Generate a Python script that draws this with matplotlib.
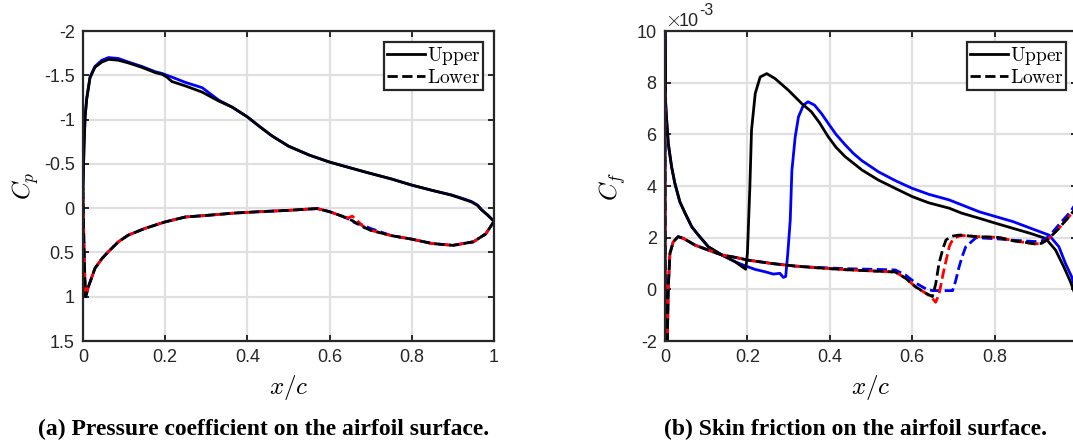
import numpy as np
import matplotlib
matplotlib.use("Agg")
import matplotlib.pyplot as plt
from matplotlib.lines import Line2D

plt.rcParams["mathtext.fontset"] = "cm"
plt.rcParams["font.family"] = ["Liberation Sans", "DejaVu Sans"]

# ---------------- pressure coefficient (left) ----------------
cp_up_x = [0, 0.0024, 0.005, 0.009, 0.017, 0.029, 0.046, 0.062, 0.086, 0.11, 0.143,
           0.176, 0.193, 0.204, 0.216, 0.249, 0.29, 0.33, 0.363, 0.4, 0.43, 0.46,
           0.5, 0.55, 0.6, 0.65, 0.693, 0.75, 0.8, 0.85, 0.896, 0.92, 0.945,
           0.96, 0.97, 0.985, 1.0]
cp_up_black = [-0.22, -0.69, -1.02, -1.23, -1.47, -1.59, -1.65, -1.68, -1.67, -1.64, -1.59,
               -1.53, -1.51, -1.48, -1.43, -1.38, -1.31, -1.21, -1.14, -1.03, -0.92, -0.815,
               -0.70, -0.60, -0.52, -0.455, -0.40, -0.33, -0.26, -0.2, -0.147, -0.11, -0.07,
               -0.03, 0.02, 0.08, 0.15]
cp_up_blue = [-0.22, -0.70, -1.03, -1.24, -1.48, -1.60, -1.67, -1.70, -1.69, -1.65, -1.60,
              -1.54, -1.52, -1.50, -1.48, -1.42, -1.36, -1.22, -1.14, -1.03, -0.92, -0.815,
              -0.70, -0.60, -0.52, -0.455, -0.40, -0.33, -0.26, -0.2, -0.15, -0.115, -0.075,
              -0.035, 0.02, 0.08, 0.15]

cp_lo_x = [0, 0.002, 0.0045, 0.0065, 0.013, 0.029, 0.046, 0.062, 0.086, 0.11, 0.15, 0.2,
           0.249, 0.306, 0.37, 0.43, 0.5, 0.55, 0.57, 0.6, 0.63, 0.645, 0.655,
           0.665, 0.68, 0.7, 0.75, 0.8, 0.85, 0.9, 0.95, 0.98, 1.0]
cp_lo_black = [-0.22, 0.35, 0.8, 1.0, 0.89, 0.68, 0.57, 0.49, 0.38, 0.305, 0.23, 0.155,
               0.1, 0.08, 0.055, 0.04, 0.025, 0.01, 0.005, 0.04, 0.09, 0.12, 0.14,
               0.17, 0.21, 0.25, 0.31, 0.35, 0.40, 0.42, 0.38, 0.29, 0.15]
cp_lo_red = [-0.22, 0.35, 0.8, 1.0, 0.89, 0.68, 0.57, 0.49, 0.38, 0.305, 0.23, 0.155,
             0.1, 0.08, 0.055, 0.04, 0.025, 0.01, 0.005, 0.04, 0.09, 0.11, 0.09,
             0.13, 0.2, 0.25, 0.31, 0.35, 0.40, 0.42, 0.38, 0.29, 0.15]
cp_lo_blue = [-0.22, 0.35, 0.8, 1.0, 0.89, 0.68, 0.57, 0.49, 0.38, 0.305, 0.23, 0.155,
              0.1, 0.08, 0.055, 0.04, 0.025, 0.01, 0.005, 0.04, 0.09, 0.12, 0.15,
              0.17, 0.19, 0.23, 0.31, 0.35, 0.40, 0.42, 0.38, 0.29, 0.15]

cp_ticks = [-2, -1.5, -1, -0.5, 0, 0.5, 1, 1.5]
cp_ticklabels = ["-2", "-1.5", "-1", "-0.5", "0", "0.5", "1", "1.5"]

# ---------------- skin friction (right), units of 1e-3 ----------------
cf_up_x_black = [0, 0.0016, 0.004, 0.008, 0.016, 0.024, 0.036, 0.049, 0.065, 0.081, 0.105,
                 0.138, 0.17, 0.193, 0.196, 0.2, 0.206, 0.21, 0.219, 0.231, 0.247, 0.267,
                 0.3, 0.332, 0.355, 0.375, 0.396, 0.415, 0.437, 0.478, 0.518, 0.56, 0.6,
                 0.64, 0.69, 0.72, 0.763, 0.8, 0.845, 0.886, 0.924, 0.948, 0.968, 0.984, 1.0]
cf_up_black = [12, 7.19, 6.55, 5.64, 4.74, 4.1, 3.39, 2.94, 2.42, 2.1, 1.65,
               1.33, 1.07, 0.81, 0.78, 1.39, 3.97, 6.16, 7.58, 8.22, 8.35, 8.16,
               7.7, 7.19, 6.88, 6.45, 5.91, 5.5, 5.14, 4.62, 4.23, 3.9, 3.59,
               3.35, 3.14, 2.95, 2.75, 2.57, 2.36, 2.17, 1.97, 1.52, 0.87, 0.3, -0.4]
cf_up_x_blue = [0, 0.0016, 0.004, 0.008, 0.016, 0.024, 0.036, 0.049, 0.065, 0.081, 0.105,
                0.138, 0.17, 0.185, 0.2, 0.219, 0.243, 0.263, 0.279, 0.287, 0.293, 0.298,
                0.304, 0.308, 0.316, 0.324, 0.336, 0.347, 0.363, 0.38, 0.396, 0.415, 0.437,
                0.458, 0.478, 0.518, 0.56, 0.6, 0.64, 0.69, 0.763, 0.845, 0.91, 0.932, 0.956,
                0.972, 0.987, 1.0]
cf_up_blue = [12, 7.19, 6.55, 5.64, 4.74, 4.1, 3.39, 2.94, 2.42, 2.1, 1.65,
              1.33, 1.07, 0.97, 0.88, 0.77, 0.68, 0.59, 0.62, 0.46, 0.5, 1.39,
              2.68, 4.6, 5.9, 6.68, 7.13, 7.26, 7.13, 6.8, 6.43, 6.0, 5.6,
              5.25, 4.98, 4.55, 4.2, 3.91, 3.68, 3.46, 3.0, 2.62, 2.23, 2.1, 1.65,
              1.0, 0.49, -0.2]

cf_lo_x = [0, 0.001, 0.005, 0.0065, 0.008, 0.012, 0.02, 0.032, 0.045, 0.073, 0.105, 0.138,
           0.17, 0.202, 0.259, 0.316, 0.355, 0.437, 0.518, 0.559, 0.584, 0.608, 0.633,
           0.649, 0.657, 0.665, 0.675, 0.682, 0.69, 0.694, 0.698, 0.705, 0.714, 0.722,
           0.73, 0.755, 0.81, 0.845, 0.898, 0.914, 0.932, 0.956, 0.984, 1.0]
cf_lo_black = [8, -3, -3, -1.2, 0.1, 1.39, 1.84, 2.04, 1.97, 1.71, 1.52, 1.33,
               1.24, 1.13, 1.0, 0.9, 0.85, 0.76, 0.7, 0.67, 0.43, 0.1, -0.15,
               -0.28, 0.2, 1.0, 1.6, 1.91, 2.0, 2.04, 2.06, 2.08, 2.1, 2.1,
               2.08, 2.04, 2.01, 1.88, 1.76, 1.78, 1.97, 2.36, 2.88, 3.2]
cf_lo_red = [8, -3, -3, -1.2, 0.1, 1.39, 1.84, 2.04, 1.97, 1.71, 1.52, 1.33,
             1.24, 1.13, 1.0, 0.9, 0.85, 0.76, 0.7, 0.67, 0.43, 0.1, -0.15,
             -0.35, -0.5, -0.2, 0.6, 1.1, 1.65, 1.8, 1.9, 2.0, 2.06, 2.08,
             2.08, 2.04, 2.01, 1.88, 1.76, 1.78, 1.97, 2.36, 2.88, 3.2]
cf_lo_blue = [8, -3, -3, -1.2, 0.1, 1.39, 1.84, 2.04, 1.97, 1.71, 1.52, 1.33,
              1.24, 1.13, 1.0, 0.9, 0.86, 0.8, 0.77, 0.75, 0.55, 0.25, 0.02,
              -0.05, -0.05, -0.05, -0.05, -0.05, -0.05, -0.05, -0.05, 0.3, 0.88, 1.3,
              1.65, 2.0, 1.95, 1.9, 1.85, 1.87, 2.05, 2.5, 3.0, 3.4]

cf_ticks = [-2, 0, 2, 4, 6, 8, 10]
cf_ticklabels = ["-2", "0", "2", "4", "6", "8", "10"]
x_ticks = [0, 0.2, 0.4, 0.6, 0.8, 1]
x_ticklabels = ["0", "0.2", "0.4", "0.6", "0.8", "1"]

W, H = 1073, 444
fig = plt.figure(figsize=(W / 100, H / 100), dpi=100)
ax1 = fig.add_axes([83 / W, 1 - 341 / H, 411 / W, 310 / H])
ax2 = fig.add_axes([665 / W, 1 - 341 / H, 412 / W, 310 / H])

lw = 2.0
dash = (3.7, 1.6)


def style(ax):
    ax.grid(True, color="#e0e0e0", linewidth=1.6)
    ax.set_axisbelow(True)
    for s in ax.spines.values():
        s.set_linewidth(1.6)
        s.set_color("#262626")
        s.set_zorder(5)
    ax.tick_params(direction="in", top=True, right=True, length=4, width=1.4,
                   color="#262626", labelcolor="#262626", labelsize=13, pad=6)


def legend(ax):
    handles = [Line2D([], [], color="k", lw=lw, ls="-"),
               Line2D([], [], color="k", lw=lw, ls=(0, dash))]
    leg = ax.legend(handles, [r"$\mathrm{Upper}$", r"$\mathrm{Lower}$"],
                    loc="upper right", fontsize=14, fancybox=False, framealpha=1,
                    edgecolor="#262626", borderpad=0.15, labelspacing=0.12,
                    handlelength=1.95, handletextpad=0.1, borderaxespad=0.55)
    leg.get_frame().set_linewidth(1.6)
    leg.set_zorder(10)


# left: Cp
ax1.plot(cp_up_x, cp_up_blue, color="b", lw=lw)
ax1.plot(cp_up_x, cp_up_black, color="k", lw=lw)
ax1.plot(cp_lo_x, cp_lo_blue, color="b", lw=lw, ls=(4, dash))
ax1.plot(cp_lo_x, cp_lo_red, color="r", lw=lw, ls=(2, dash))
ax1.plot(cp_lo_x, cp_lo_black, color="k", lw=lw, ls=(0, dash))
ax1.set_xlim(0, 1)
ax1.set_ylim(1.5, -2)
ax1.set_xticks(x_ticks, x_ticklabels)
ax1.set_yticks(cp_ticks, cp_ticklabels)
style(ax1)
ax1.set_xlabel(r"$x/c$", fontsize=18, labelpad=5)
ax1.set_ylabel(r"$C_p$", fontsize=18, labelpad=2)
legend(ax1)

# right: Cf
ax2.plot(cf_up_x_blue, cf_up_blue, color="b", lw=lw)
ax2.plot(cf_up_x_black, cf_up_black, color="k", lw=lw)
ax2.plot(cf_lo_x, cf_lo_blue, color="b", lw=lw, ls=(4, dash))
ax2.plot(cf_lo_x, cf_lo_red, color="r", lw=lw, ls=(2, dash))
ax2.plot(cf_lo_x, cf_lo_black, color="k", lw=lw, ls=(0, dash))
ax2.set_xlim(0, 1)
ax2.set_ylim(-2, 10)
# the last tick label lies outside the cropped figure
ax2.set_xticks(x_ticks, x_ticklabels[:-1] + [""])
ax2.set_yticks(cf_ticks, cf_ticklabels)
style(ax2)
ax2.set_xlabel(r"$x/c$", fontsize=18, labelpad=5)
ax2.set_ylabel(r"$C_f$", fontsize=18, labelpad=6)
legend(ax2)

# exponent label above the Cf axis
fig.text(665 / W, 1 - 26 / H, r"$\times$", fontsize=15, color="#262626", ha="left", va="baseline")
fig.text(679 / W, 1 - 26 / H, "10", fontsize=13, color="#262626", ha="left", va="baseline")
fig.text(699 / W, 1 - 15 / H, "-3", fontsize=11.5, color="#262626", ha="left", va="baseline")

cap = dict(family=["Liberation Serif", "DejaVu Serif"], weight="bold", fontsize=17,
           ha="center", va="center")
fig.text(264 / W, 1 - 429 / H, "(a) Pressure coefficient on the airfoil surface.", **cap)
fig.text(855 / W, 1 - 429 / H, "(b) Skin friction on the airfoil surface.", **cap)

fig.savefig("out.png", dpi=100)
